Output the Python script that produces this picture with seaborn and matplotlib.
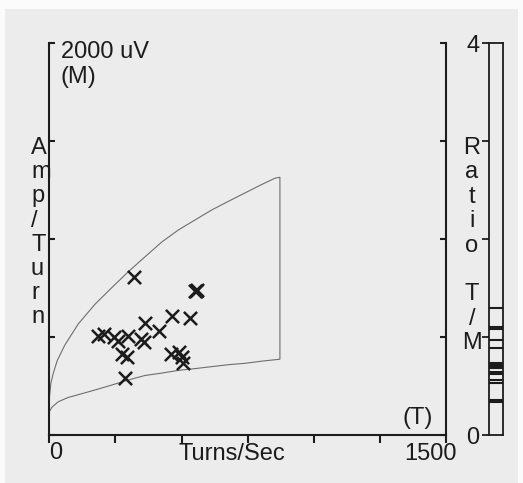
import matplotlib
matplotlib.use("Agg")
import matplotlib.pyplot as plt
from matplotlib.patches import Rectangle
import seaborn as sns

# ------------------------------------------------------------
# data
# ------------------------------------------------------------
# sampled sites: turns per second and amplitude per turn (uV)
turns = [320, 554, 557, 551, 463, 531, 363, 413, 186, 205, 246, 260,
         299, 346, 358, 274, 293, 460, 491, 502, 507, 287]
amps = [808, 737, 741, 733, 609, 596, 570, 531, 508, 517, 502, 479,
        504, 490, 475, 415, 398, 413, 424, 398, 370, 293]

# normal envelope (upper and lower limit curves)
env_up_x = [0, 6, 15, 30, 59, 110, 173, 236, 299, 362, 425, 488, 551,
            614, 677, 740, 803, 853, 872]
env_up_y = [185, 265, 315, 380, 460, 568, 668, 752, 834, 910, 985, 1047,
            1098, 1149, 1193, 1236, 1279, 1311, 1316]
env_lo_x = [0, 10, 34, 70, 110, 173, 236, 299, 362, 425, 488, 551, 614,
            677, 740, 803, 872]
env_lo_y = [119, 142, 170, 191, 206, 230, 255, 281, 304, 316, 330, 339,
            349, 359, 366, 377, 387]

# T/M ratio of each site (rug on the right strip)
ratios = [1.30, 1.105, 1.085, 0.97, 0.89, 0.74, 0.72, 0.70, 0.685,
          0.64, 0.62, 0.56, 0.53, 0.36, 0.34]

x_ticks = [0, 250, 500, 750, 1000, 1250, 1500]
y_ticks = [0, 500, 1000, 1500, 2000]
ratio_ticks = [0, 1, 2, 3, 4]
ratio_labels = ["0", "", "", "", "4"]

# ------------------------------------------------------------
# figure
# ------------------------------------------------------------
W, H = 523, 483
sns.set_style("ticks")
plt.rcParams["font.family"] = ["Liberation Sans", "DejaVu Sans"]
ink = "#1c1c1c"
fs = 17


def fx(x):
    return x / W


def fy(y):
    return 1 - y / H


def box(x0, y0, x1, y1):
    return [fx(x0), fy(y1), (x1 - x0) / W, (y1 - y0) / H]


fig = plt.figure(figsize=(W / 100, H / 100), dpi=100, facecolor="#fbfbfb")
fig.patches.append(Rectangle((fx(5), 0), (518 - 5) / W, fy(9),
                             transform=fig.transFigure, facecolor="#ececec",
                             edgecolor="none", zorder=-5))

ax = fig.add_axes(box(49.3, 43.3, 446, 435))
ax2 = fig.add_axes(box(489, 43.3, 503, 435))
for a in (ax, ax2):
    a.set_facecolor("none")

# envelope: upper curve, down the right edge, back along the lower curve
env_x = env_up_x + env_lo_x[::-1]
env_y = env_up_y + env_lo_y[::-1]
sns.lineplot(x=env_x, y=env_y, sort=False, estimator=None, color="#6e6e6e",
             linewidth=0.8, ax=ax)

sns.scatterplot(x=turns, y=amps, marker="x", s=90, color=ink,
                linewidth=1.8, ax=ax, zorder=3)

ax.set_xlim(0, 1500)
ax.set_ylim(0, 2000)
ax.set_xticks(x_ticks)
ax.set_yticks(y_ticks)
ax.set_xlabel("")
ax.set_ylabel("")
ax.spines["top"].set_visible(False)
for s in ("left", "right", "bottom"):
    ax.spines[s].set_linewidth(1.5)
    ax.spines[s].set_color(ink)
ax.tick_params(axis="x", direction="out", length=6, width=1.5, color=ink,
               labelbottom=False)
ax.tick_params(axis="y", direction="in", length=4.5, width=1.5, color=ink,
               left=True, right=True, labelleft=False)

# x tick texts placed like the original
tr = ax.get_xaxis_transform()
ax.text(0, -0.017, "0", transform=tr, ha="left", va="top", fontsize=fs,
        color=ink)
ax.text(490, -0.02, "Turns/Sec", transform=tr, ha="left", va="top",
        fontsize=fs, color=ink)
ax.text(1540, -0.02, "1500", transform=tr, ha="right", va="top",
        fontsize=fs, color=ink)

# ratio strip
sns.rugplot(y=ratios, height=1, ax=ax2, color=ink, linewidth=1.5,
            expand_margins=False)
ax2.set_xlim(0, 1)
ax2.set_ylim(0, 4)
ax2.set_xticks([])
ax2.set_yticks(ratio_ticks)
ax2.set_yticklabels(ratio_labels)
for s in ax2.spines.values():
    s.set_visible(True)
    s.set_linewidth(1.3)
    s.set_color(ink)
ax2.tick_params(axis="y", direction="out", length=5, width=1.3, color=ink,
                labelsize=fs, labelcolor=ink, pad=2)

# stacked labels and units
fig.text(fx(61), fy(41), "2000 uV\n(M)", ha="left", va="top", fontsize=fs,
         color=ink, linespacing=1.15)
fig.text(fx(31), fy(137), "A\nm\np\n/\nT\nu\nr\nn", ha="left", va="top",
         multialignment="left", fontsize=fs, color=ink, linespacing=1.13)
fig.text(fx(472), fy(137), "R\na\nt\ni\no\n\nT\n/\nM", ha="center", va="top",
         multialignment="center", fontsize=fs, color=ink, linespacing=1.14)
fig.text(fx(433), fy(429), "(T)", ha="right", va="bottom", fontsize=fs,
         color=ink)

fig.savefig("out.png", dpi=100, facecolor=fig.get_facecolor())
